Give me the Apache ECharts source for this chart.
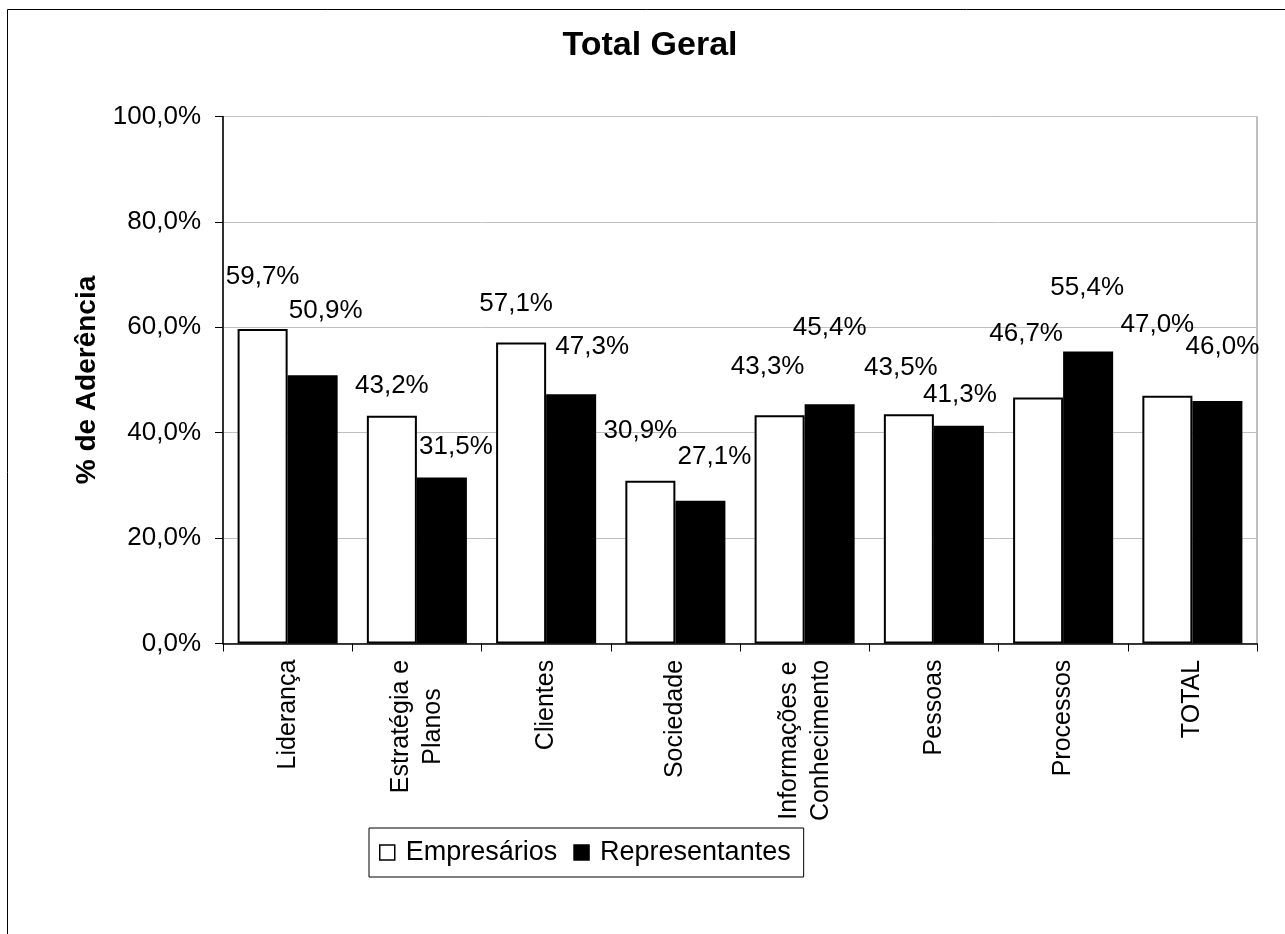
<!DOCTYPE html>
<html>
<head>
<meta charset="utf-8">
<script src="https://cdn.jsdelivr.net/npm/echarts@6/dist/echarts.min.js"></script>
<style>
html, body { margin: 0; padding: 0; background: #fff; }
#chart { width: 1285px; height: 934px; }
</style>
</head>
<body>
<div id="chart"></div>
<script>
// ---- data ----
const titleText = 'Total Geral';
const yAxisName = '% de Aderência';
const categories = ['Liderança', 'Estratégia e\nPlanos', 'Clientes', 'Sociedade', 'Informações e\nConhecimento', 'Pessoas', 'Processos', 'TOTAL'];
const seriesNames = ['Empresários', 'Representantes'];
const empresarios = [59.7, 43.2, 57.1, 30.9, 43.3, 43.5, 46.7, 47.0];
const representantes = [50.9, 31.5, 47.3, 27.1, 45.4, 41.3, 55.4, 46.0];
const yMin = 0, yMax = 100, yInterval = 20;

// ---- label nudges (style only: shift of each value label from its default spot) ----
const empLabelShift = [[0, -34], [0, -12], [-5, -21], [-10, -32], [-12, -30], [-8, -28], [-12, -46], [-10, -53]];
const repLabelShift = [[13, -46], [14, -13], [21, -29], [14, -26], [0, -58], [1, -13], [-1, -46], [5, -36]];

const FONT = 'Arial, "Liberation Sans", sans-serif';
const X_FONT_SIZE = 25;
const fmt = v => v.toFixed(1).replace('.', ',') + '%';

function buildData(values, shifts) {
  return values.map((v, i) => ({
    value: v,
    label: { offset: shifts[i] }
  }));
}

// rich styles so multi-line category labels are centred line by line
const measureCtx = document.createElement('canvas').getContext('2d');
measureCtx.font = X_FONT_SIZE + 'px ' + FONT;
const xRich = {};
categories.forEach((c, i) => {
  const w = Math.max(...c.split('\n').map(s => measureCtx.measureText(s).width));
  xRich['l' + i] = {
    width: Math.ceil(w),
    align: 'center',
    fontFamily: FONT,
    fontSize: X_FONT_SIZE,
    lineHeight: 32,
    color: '#000'
  };
});

const chart = echarts.init(document.getElementById('chart'), null, { renderer: 'canvas' });
chart.setOption({
  backgroundColor: '#fff',
  animation: false,
  title: {
    text: titleText,
    left: 645,
    top: 24,
    textAlign: 'center',
    textStyle: { fontFamily: FONT, fontSize: 34, fontWeight: 'bold', color: '#000' }
  },
  graphic: [{
    type: 'rect',
    shape: { x: 7.5, y: 9.5, width: 1400, height: 1000 },
    style: { fill: 'none', stroke: '#000', lineWidth: 1 },
    silent: true
  }],
  legend: {
    left: 369,
    top: 828,
    orient: 'horizontal',
    padding: [11, 13, 11, 10],
    borderColor: '#000',
    borderWidth: 1,
    icon: 'rect',
    itemWidth: 15,
    itemHeight: 15,
    itemGap: 16,
    itemStyle: { borderWidth: 1.5, borderColor: '#000' },
    data: seriesNames,
    textStyle: { fontFamily: FONT, fontSize: 27, color: '#000', padding: [0, 0, 0, 6] }
  },
  grid: {
    left: 223,
    right: 28,
    top: 116.5,
    bottom: 290.5,
    show: true,
    borderColor: '#808080',
    borderWidth: 1,
    containLabel: false
  },
  xAxis: {
    type: 'category',
    data: categories,
    axisLine: { lineStyle: { color: '#000', width: 1.5 } },
    axisTick: { show: true, length: 8, lineStyle: { color: '#000' } },
    axisLabel: {
      rotate: 90,
      margin: 16,
      interval: 0,
      fontFamily: FONT,
      fontSize: X_FONT_SIZE,
      lineHeight: 32,
      color: '#000',
      formatter: (value, index) => value.split('\n').map(s => '{l' + index + '|' + s + '}').join('\n'),
      rich: xRich
    }
  },
  yAxis: {
    type: 'value',
    min: yMin,
    max: yMax,
    interval: yInterval,
    name: yAxisName,
    nameLocation: 'middle',
    nameRotate: 90,
    nameGap: 122,
    nameTextStyle: { fontFamily: FONT, fontSize: 28, fontWeight: 'bold', color: '#000' },
    axisLine: { show: true, lineStyle: { color: '#000', width: 1.5 } },
    axisTick: { show: true, length: 8, inside: false, lineStyle: { color: '#000' } },
    axisLabel: {
      margin: 22,
      fontFamily: FONT,
      fontSize: 26,
      color: '#000',
      formatter: v => fmt(v)
    },
    splitLine: { show: true, lineStyle: { color: '#c0c0c0', width: 1 } }
  },
  series: [
    {
      name: seriesNames[0],
      type: 'bar',
      data: buildData(empresarios, empLabelShift),
      barGap: '0%',
      barCategoryGap: '22.6%',
      itemStyle: { color: '#fff', borderColor: '#000', borderWidth: 2 },
      label: {
        show: true,
        position: 'top',
        distance: 5,
        fontFamily: FONT,
        fontSize: 26,
        color: '#000',
        formatter: p => fmt(p.value)
      }
    },
    {
      name: seriesNames[1],
      type: 'bar',
      data: buildData(representantes, repLabelShift),
      barGap: '0%',
      barCategoryGap: '22.6%',
      itemStyle: { color: '#000', borderColor: '#000', borderWidth: 2 },
      label: {
        show: true,
        position: 'top',
        distance: 5,
        fontFamily: FONT,
        fontSize: 26,
        color: '#000',
        formatter: p => fmt(p.value)
      }
    }
  ]
});
</script>
</body>
</html>
